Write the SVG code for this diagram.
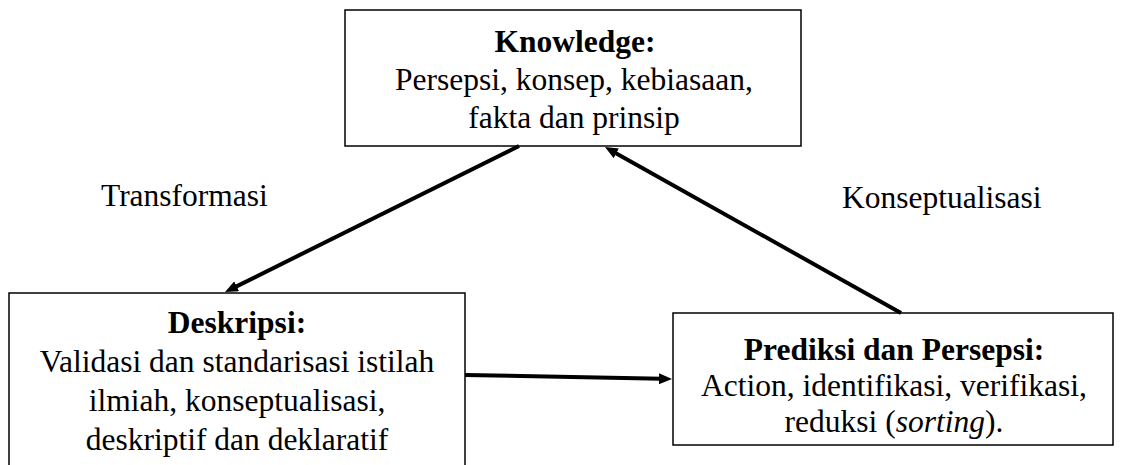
<svg xmlns="http://www.w3.org/2000/svg" width="1123" height="465" viewBox="0 0 1123 465">
<style>
.box{fill:#fff;stroke:#000;stroke-width:1.5}
.t{font-family:"Liberation Serif","Times New Roman",serif;font-size:31.5px;fill:#000;text-anchor:middle}
.b{font-weight:bold}
.lbl{font-family:"Liberation Serif","Times New Roman",serif;font-size:31.5px;fill:#000}
.c{stroke:#000;stroke-width:4;fill:none;marker-end:url(#ah)}
</style>
<defs>
<marker id="ah" markerUnits="userSpaceOnUse" markerWidth="13" markerHeight="11" viewBox="0 0 13 11" refX="3" refY="5.5" orient="auto">
<path d="M0,0 L13,5.5 L0,11 z" fill="#000"/>
</marker>
</defs>
<rect width="1123" height="465" fill="#fff"/>
<g id="knowledge">
<rect class="box" x="345" y="10" width="456" height="136"/>
<text class="t b" x="575" y="52">Knowledge:</text>
<text class="t" x="574" y="90">Persepsi, konsep, kebiasaan,</text>
<text class="t" x="574" y="128">fakta dan prinsip</text>
</g>
<g id="deskripsi">
<rect class="box" x="9" y="293" width="456" height="180"/>
<text class="t b" x="237" y="333">Deskripsi:</text>
<text class="t" x="237" y="372">Validasi dan standarisasi istilah</text>
<text class="t" x="237" y="411">ilmiah, konseptualisasi,</text>
<text class="t" x="237" y="450">deskriptif dan deklaratif</text>
</g>
<g id="prediksi">
<rect class="box" x="673" y="313" width="440" height="132"/>
<text class="t b" x="894" y="360">Prediksi dan Persepsi:</text>
<text class="t" x="894" y="396">Action, identifikasi, verifikasi,</text>
<text class="t" x="894" y="432">reduksi (<tspan font-style="italic">sorting</tspan>).</text>
</g>
<g id="labels">
<text class="lbl" x="101" y="206">Transformasi</text>
<text class="lbl" x="842" y="208">Konseptualisasi</text>
</g>
<g id="connectors">
<line class="c" x1="519" y1="146" x2="234" y2="287.6"/>
<line class="c" x1="901" y1="313" x2="613.7" y2="151.9"/>
<line class="c" x1="465" y1="375" x2="662" y2="378.8"/>
</g>
</svg>
